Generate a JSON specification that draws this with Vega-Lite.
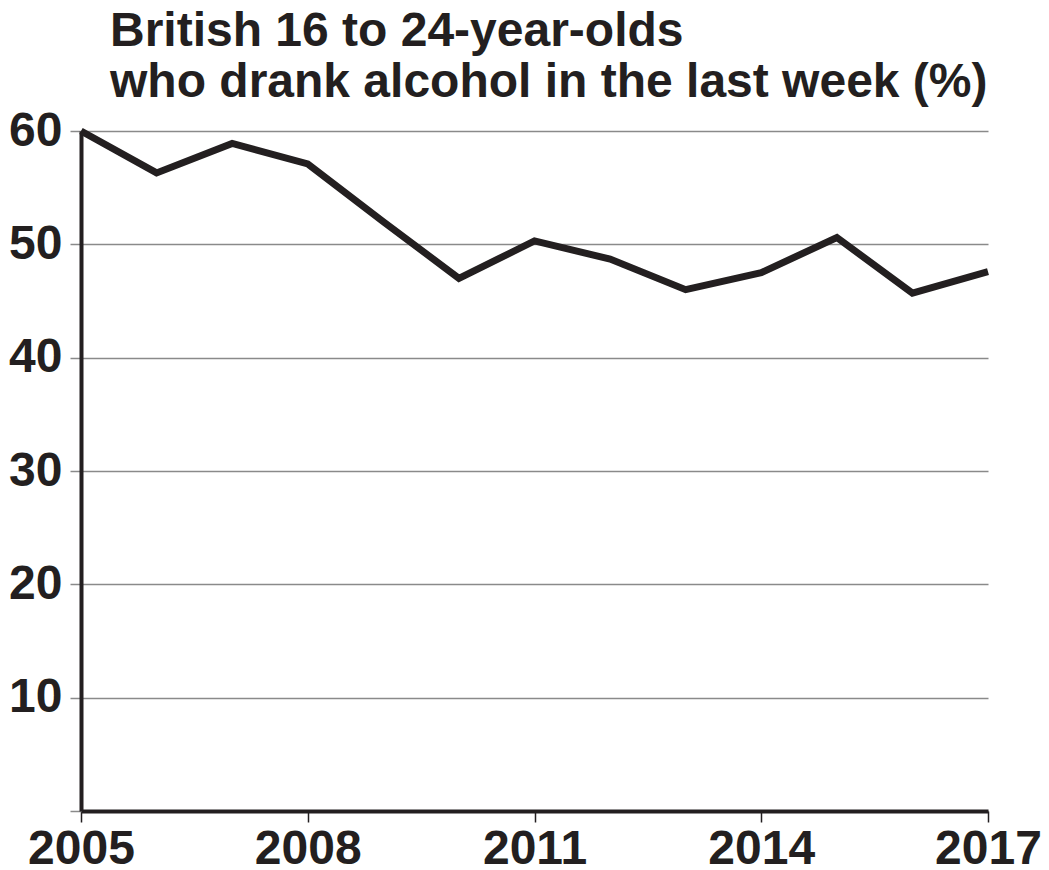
{
  "$schema": "https://vega.github.io/schema/vega-lite/v6.json",
  "width": 907,
  "height": 680,
  "autosize": {"type": "none"},
  "padding": {"left": 81, "top": 131, "right": 61, "bottom": 59},
  "background": "white",
  "config": {
    "view": {"stroke": null},
    "font": "Liberation Sans, Arial, sans-serif"
  },
  "title": {
    "text": ["British 16 to 24-year-olds", "who drank alcohol in the last week (%)"],
    "anchor": "start",
    "frame": "group",
    "orient": "top",
    "fontSize": 48,
    "fontWeight": "bold",
    "color": "#231f20",
    "lineHeight": 51,
    "baseline": "alphabetic",
    "offset": 34,
    "dx": 29,
    "dy": 72
  },
  "data": {
    "values": [
      {"year": 2005, "pct": 60.0},
      {"year": 2006, "pct": 56.3},
      {"year": 2007, "pct": 58.9},
      {"year": 2008, "pct": 57.1},
      {"year": 2009, "pct": 52.0},
      {"year": 2010, "pct": 47.0},
      {"year": 2011, "pct": 50.3},
      {"year": 2012, "pct": 48.7},
      {"year": 2013, "pct": 46.0},
      {"year": 2014, "pct": 47.5},
      {"year": 2015, "pct": 50.6},
      {"year": 2016, "pct": 45.7},
      {"year": 2017, "pct": 47.6}
    ]
  },
  "mark": {"type": "line", "color": "#231f20", "strokeWidth": 7, "strokeJoin": "miter", "clip": false},
  "encoding": {
    "x": {
      "field": "year",
      "type": "quantitative",
      "scale": {"domain": [2005, 2017], "nice": false, "zero": false},
      "axis": {
        "title": null,
        "values": [2005, 2008, 2011, 2014, 2017],
        "format": "d",
        "grid": false,
        "domainColor": "#231f20",
        "domainWidth": 4,
        "tickColor": "#231f20",
        "tickWidth": 1.5,
        "tickSize": 11,
        "labelFontSize": 48,
        "labelFontWeight": "bold",
        "labelColor": "#231f20",
        "labelPadding": 3,
        "labelFlush": false,
        "labelOverlap": false
      }
    },
    "y": {
      "field": "pct",
      "type": "quantitative",
      "scale": {"domain": [0, 60], "nice": false},
      "axis": {
        "title": null,
        "values": [0, 10, 20, 30, 40, 50, 60],
        "labelExpr": "datum.value == 0 ? '' : datum.label",
        "grid": true,
        "gridColor": "#8a8a8a",
        "gridWidth": 1.5,
        "domainColor": "#231f20",
        "domainWidth": 4,
        "tickColor": "#8a8a8a",
        "tickWidth": 1.5,
        "tickSize": 11,
        "labelFontSize": 48,
        "labelFontWeight": "bold",
        "labelColor": "#231f20",
        "labelPadding": 8,
        "labelFlush": false,
        "labelOverlap": false
      }
    }
  }
}
